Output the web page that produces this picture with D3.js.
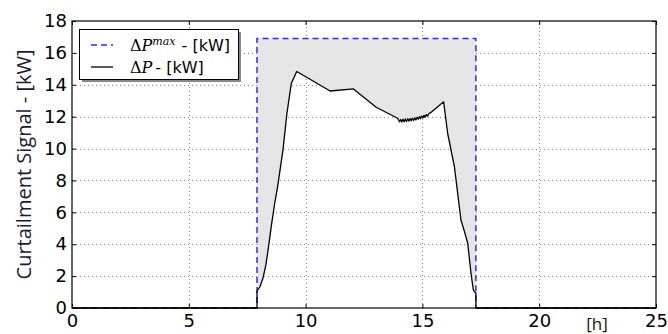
<!DOCTYPE html>
<html><head><meta charset="utf-8">
<script src="https://cdn.jsdelivr.net/npm/d3@7"></script>
<style>body{margin:0;background:#fff}svg{display:block}</style>
</head><body>
<script>
// ---- data ----
const xTicks = [0, 5, 10, 15, 20, 25];
const yTicks = [0, 2, 4, 6, 8, 10, 12, 14, 16, 18];
const maxHours = [0, 7.92, 7.92, 17.29, 17.29, 25];
const maxValues = [0, 0, 16.9, 16.9, 0, 0];
const dpHours = [0, 7.92, 7.92, 8.05, 8.18, 8.3, 8.39, 8.53, 8.68, 8.8, 9.03, 9.2, 9.39, 9.62,
  11.05, 12.05, 13.02, 13.94, 14.02, 14.07, 14.12, 14.17, 14.22, 14.27, 14.32, 14.37, 14.42, 14.47,
  14.52, 14.57, 14.62, 14.67, 14.72, 14.77, 14.82, 14.87, 14.92, 14.97, 15.02, 15.07, 15.12, 15.17,
  15.22, 15.27, 15.35, 15.91, 16.08, 16.37, 16.65, 16.8, 16.94, 17.08, 17.18, 17.26, 17.29, 17.29, 25];
const dpValues = [0, 0, 1.05, 1.35, 1.9, 2.7, 3.6, 5.1, 6.6, 7.6, 9.9, 12.2, 14.1, 14.83,
  13.61, 13.74, 12.59, 11.9, 11.68, 11.82, 11.66, 11.84, 11.68, 11.86, 11.7, 11.87, 11.72, 11.88,
  11.74, 11.9, 11.76, 11.93, 11.8, 11.96, 11.84, 12.0, 11.88, 12.04, 11.92, 12.08, 11.97, 12.13,
  12.03, 12.18, 12.25, 12.93, 10.96, 8.87, 5.52, 4.8, 4.06, 2.18, 1.13, 0.96, 0.95, 0, 0];
const legendLabels = ["- [kW]", "- [kW]"];

// ---- layout ----
const W = 668, H = 334;
const m = {left: 72, right: 12, top: 21, bottom: 26};
const svg = d3.select("body").append("svg").attr("width", W).attr("height", H);
const x = d3.scaleLinear().domain([0, 25]).range([m.left, W - m.right]);
const y = d3.scaleLinear().domain([0, 18]).range([H - m.bottom, m.top]);
const x0 = x.range()[0], x1 = x.range()[1], y0 = y.range()[0], y1 = y.range()[1];

// grid
const grid = svg.append("g").attr("stroke", "#8a8a8a").attr("stroke-width", 1).attr("stroke-dasharray", "1,3");
xTicks.slice(1, -1).forEach(t => grid.append("line").attr("x1", Math.round(x(t)) + 0.5).attr("x2", Math.round(x(t)) + 0.5).attr("y1", y0).attr("y2", y1));
yTicks.slice(1, -1).forEach(t => grid.append("line").attr("y1", Math.round(y(t)) + 0.5).attr("y2", Math.round(y(t)) + 0.5).attr("x1", x0).attr("x2", x1));

// fill between
const dp = dpHours.map((h, i) => ({h, v: dpValues[i]}));
const inside = dp.filter((d, i) => d.h >= 7.92 && d.h <= 17.29 && !(i === 1) && !(i === dp.length - 2));
svg.append("path").datum(inside)
  .attr("fill", "#e5e5e5")
  .attr("d", d3.area().x(d => x(d.h)).y0(y(maxValues[2])).y1(d => y(d.v)));

// lines
const mx = maxHours.map((h, i) => ({h, v: maxValues[i]}));
const line = d3.line().x(d => x(d.h)).y(d => y(d.v));
svg.append("path").datum(mx).attr("fill", "none").attr("stroke", "#2b2bff").attr("stroke-width", 1.5)
  .attr("stroke-dasharray", "6,4").attr("d", line);
svg.append("path").datum(dp).attr("fill", "none").attr("stroke", "#000").attr("stroke-width", 1.3)
  .attr("stroke-linejoin", "round").attr("d", line);

// frame
svg.append("rect").attr("x", x0).attr("y", y1).attr("width", x1 - x0).attr("height", y0 - y1)
  .attr("fill", "none").attr("stroke", "#000").attr("stroke-width", 1.2);

// axes
const fontTick = "'DejaVu Sans', sans-serif";
const xa = svg.append("g").attr("transform", `translate(0,${y0})`)
  .call(d3.axisBottom(x).tickValues(xTicks).tickSizeInner(-4).tickSizeOuter(0).tickPadding(6));
const ya = svg.append("g").attr("transform", `translate(${x0},0)`)
  .call(d3.axisLeft(y).tickValues(yTicks).tickSizeInner(-4).tickSizeOuter(0).tickPadding(5));
svg.append("g").attr("transform", `translate(0,${y1})`)
  .call(d3.axisTop(x).tickValues(xTicks).tickSizeInner(-4).tickSizeOuter(0).tickFormat(""));
svg.append("g").attr("transform", `translate(${x1},0)`)
  .call(d3.axisRight(y).tickValues(yTicks).tickSizeInner(-4).tickSizeOuter(0).tickFormat(""));
svg.selectAll(".domain").remove();
[xa, ya].forEach(a => a.selectAll("text").attr("font-family", fontTick).attr("font-size", 18).attr("fill", "#000"));
xa.selectAll("text").attr("dy", "0.72em");

// axis labels
svg.append("text").attr("transform", `translate(31,${(y0 + y1) / 2 + 0}) rotate(-90)`)
  .attr("text-anchor", "middle").attr("font-family", "'Open Sans', sans-serif").attr("font-size", 20)
  .attr("fill", "#1a1a33").text("Curtailment Signal - [kW]");
svg.append("text").attr("x", 597).attr("y", 330).attr("text-anchor", "middle")
  .attr("font-family", "'Open Sans', sans-serif").attr("font-size", 17).attr("fill", "#111").text("[h]");

// legend
const lg = svg.append("g");
lg.append("rect").attr("x", 82).attr("y", 32).attr("width", 159).attr("height", 50).attr("fill", "#888");
lg.append("rect").attr("x", 79.5).attr("y", 29.5).attr("width", 159).attr("height", 50)
  .attr("fill", "#fff").attr("stroke", "#000").attr("stroke-width", 1);
lg.append("line").attr("x1", 91).attr("x2", 113).attr("y1", 45).attr("y2", 45)
  .attr("stroke", "#2b2bff").attr("stroke-width", 1.5).attr("stroke-dasharray", "6,4");
lg.append("line").attr("x1", 91).attr("x2", 113).attr("y1", 67).attr("y2", 67)
  .attr("stroke", "#000").attr("stroke-width", 1.3);
const serif = "'DejaVu Serif', serif";
const t1 = lg.append("text").attr("x", 130).attr("y", 51).attr("font-size", 16).attr("fill", "#000");
t1.append("tspan").attr("font-family", serif).text("Δ");
t1.append("tspan").attr("font-family", serif).attr("font-style", "italic").text("P");
t1.append("tspan").attr("font-family", serif).attr("font-style", "italic").attr("font-size", 11).attr("dy", -6).text("max");
t1.append("tspan").attr("font-family", fontTick).attr("dy", 6).attr("dx", 6).text(legendLabels[0]);
const t2 = lg.append("text").attr("x", 130).attr("y", 73).attr("font-size", 16).attr("fill", "#000");
t2.append("tspan").attr("font-family", serif).text("Δ");
t2.append("tspan").attr("font-family", serif).attr("font-style", "italic").text("P");
t2.append("tspan").attr("font-family", fontTick).attr("dx", 3).text(legendLabels[1]);
</script>
</body></html>
